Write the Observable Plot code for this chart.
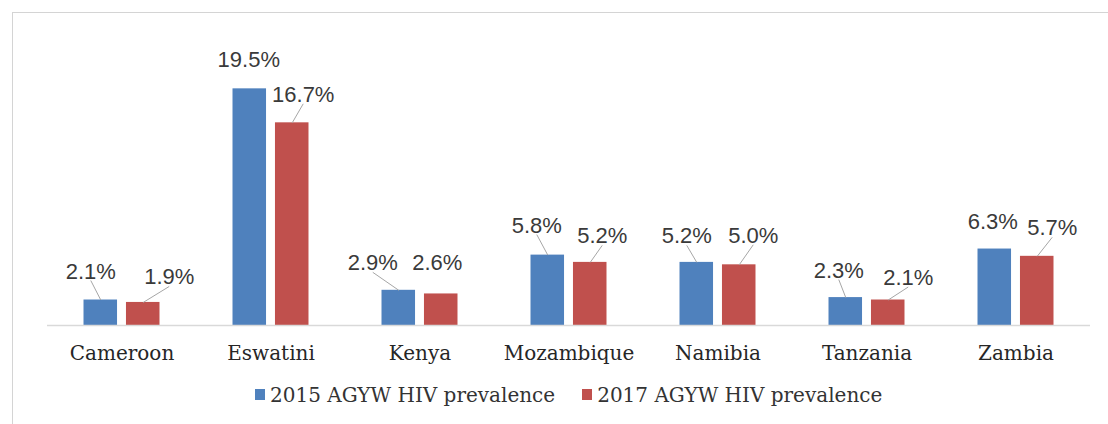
<!DOCTYPE html>
<html>
<head>
<meta charset="utf-8">
<script src="https://cdn.jsdelivr.net/npm/d3@7"></script>
<script src="https://cdn.jsdelivr.net/npm/@observablehq/plot@0.6"></script>
<style>
  html, body { margin: 0; padding: 0; background: #fff; overflow: hidden; }
  #frame { position: absolute; left: 12px; top: 12px; width: 1300px; height: 700px; border: 1px solid #d4d4d4; box-sizing: border-box; }
  #chart { position: absolute; left: 0; top: 0; }
  #legend { position: absolute; left: 255px; top: 378px; }
  div .lg-swatches { font-family: "DejaVu Serif", serif !important; font-size: 20px !important; color: #333 !important; margin: 0 !important; }
  div .lg-swatch { margin-right: 27px !important; }
  div .lg-swatch > svg { margin-right: 5px !important; }
</style>
</head>
<body>
<div id="frame"></div>
<div id="chart"></div>
<div id="legend"></div>
<script>
const countries = ["Cameroon", "Eswatini", "Kenya", "Mozambique", "Namibia", "Tanzania", "Zambia"];
const series = ["2015 AGYW HIV prevalence", "2017 AGYW HIV prevalence"];
const prev2015 = [2.1, 19.5, 2.9, 5.8, 5.2, 2.3, 6.3];
const prev2017 = [1.9, 16.7, 2.6, 5.2, 5.0, 2.1, 5.7];
const colors = ["#4F81BD", "#C0504D"];

// label nudges in pixels (dx, dy) relative to the top-centre of each bar
const nudge2015 = [[-10, -28.5], [-1, -28.5], [-26, -27], [-11, -29.5], [-10, -26], [-7, -27], [-2, -27.5]];
const nudge2017 = [[26, -25], [11, -28], [-4, -31], [12, -26], [14, -29], [20, -22], [15, -28]];

const W = 1108, H = 424;
const mL = 47, mR = 18, mT = 58, mB = 99;
const yMax = 22;
const pxX = (W - mL - mR) / countries.length;
const pxY = (H - mT - mB) / yMax;

const barW = 0.225, gap = 0.03;
const data = [];
countries.forEach((c, i) => {
  [prev2015, prev2017].forEach((arr, s) => {
    const x1 = s === 0 ? i - gap - barW : i + gap;
    const x2 = x1 + barW;
    const nd = (s === 0 ? nudge2015 : nudge2017)[i];
    const bx = (x1 + x2) / 2;
    const lx = bx + nd[0] / pxX;
    const ly = arr[i] - nd[1] / pxY;
    data.push({country: c, series: series[s], v: arr[i], x1, x2, bx, lx, ly, nx: nd[0]});
  });
});

const leaders = data.filter(d => Math.abs(d.nx) > 5);

const chart = Plot.plot({
  width: W,
  height: H,
  marginLeft: mL,
  marginRight: mR,
  marginTop: mT,
  marginBottom: mB,
  style: {background: "transparent"},
  x: {domain: [-0.5, countries.length - 0.5], axis: null},
  y: {domain: [0, yMax], axis: null},
  color: {domain: series, range: colors},
  marks: [
    Plot.rectY(data, {x1: "x1", x2: "x2", y1: 0, y2: "v", fill: "series"}),
    Plot.ruleY([0], {stroke: "#d9d9d9", strokeWidth: 1.5}),
    Plot.link(leaders, {x1: "lx", y1: d => d.ly - 9 / pxY, x2: "bx", y2: "v", stroke: "#a6a6a6", strokeWidth: 1}),
    Plot.text(data, {x: "lx", y: "ly", text: d => d.v.toFixed(1) + "%", fontSize: 22, fontFamily: "Liberation Sans, Arial, sans-serif", fill: "#3a3a3a"}),
    Plot.text(countries, {x: (d, i) => i, y: () => 0, text: d => d, dy: 28, fontSize: 20, fontFamily: "DejaVu Serif, serif", fill: "#262626"})
  ]
});
document.getElementById("chart").appendChild(chart);

const lg = Plot.legend({
  color: {domain: series, range: colors},
  legend: "swatches",
  swatchWidth: 10,
  swatchHeight: 11,
  className: "lg"
});
document.getElementById("legend").appendChild(lg);
</script>
</body>
</html>
